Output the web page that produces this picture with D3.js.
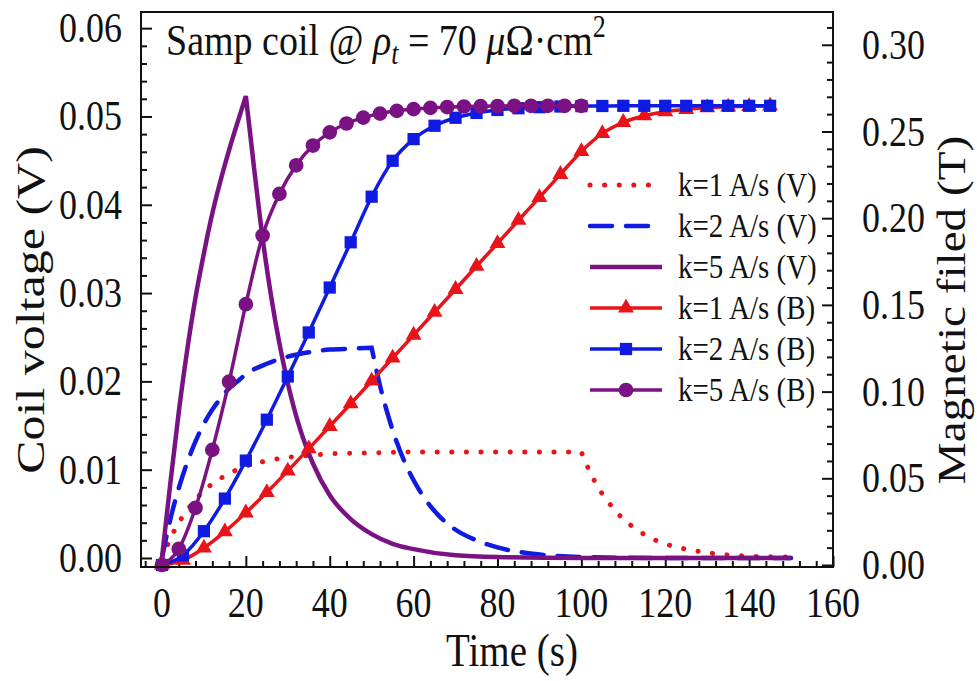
<!DOCTYPE html>
<html>
<head>
<meta charset="utf-8">
<script src="https://cdn.jsdelivr.net/npm/d3@7"></script>
<style>
  body { margin: 0; background: #fff; }
  text { font-family: "Liberation Serif", "Times New Roman", serif; fill: #111; }
</style>
</head>
<body>
<div id="chart"></div>
<script>
// coil voltage curves (left axis, V)
const tV1 = [0, 2, 4, 6, 8, 10, 12, 15, 20, 25, 30, 35, 40, 50, 60, 70, 80, 90, 100, 102, 104, 106, 108, 110, 113, 116, 120, 125, 130, 140, 150];
const v1  = [0, 0.0022, 0.0040, 0.0054, 0.0066, 0.0076, 0.0084, 0.0093, 0.0104, 0.0110, 0.0114, 0.0116, 0.0118, 0.0119, 0.0120, 0.0120, 0.0120, 0.0120, 0.0120, 0.0098, 0.0080, 0.0066, 0.0054, 0.0044, 0.0033, 0.0024, 0.0016, 0.0010, 0.0006, 0.0002, 0.0001];
const tV2 = [0, 2, 4, 6, 8, 10, 12, 14, 16, 18, 20, 25, 30, 35, 40, 45, 50, 52, 54, 56, 58, 60, 63, 66, 70, 75, 80, 90, 100, 120, 150];
const v2  = [0, 0.0044, 0.0079, 0.0108, 0.0132, 0.0152, 0.0168, 0.0181, 0.0192, 0.0200, 0.0208, 0.0220, 0.0228, 0.0233, 0.0236, 0.0237, 0.0238, 0.0195, 0.0160, 0.0131, 0.0107, 0.0088, 0.0065, 0.0048, 0.0032, 0.0020, 0.0012, 0.0004, 0.0001, 0, 0];
const tV5 = [0, 2, 4, 6, 8, 10, 12, 14, 16, 18, 20, 22, 24, 26, 28, 30, 33, 36, 40, 45, 50, 55, 60, 70, 80, 100, 150];
const v5  = [0, 0.0085, 0.0165, 0.0235, 0.0295, 0.0345, 0.0390, 0.0428, 0.0462, 0.0493, 0.0523, 0.0440, 0.0362, 0.0297, 0.0243, 0.0198, 0.0145, 0.0107, 0.0071, 0.0044, 0.0027, 0.0016, 0.0010, 0.0003, 0.0001, 0, 0];

// magnetic field curves (right axis, T)
const tB1 = [0, 5, 10, 15, 20, 25, 30, 35, 40, 45, 50, 55, 60, 65, 70, 75, 80, 85, 90, 95, 100, 105, 110, 115, 120, 125, 130, 135, 140, 145];
const b1  = [0, 0.0028, 0.0098, 0.0192, 0.0301, 0.0419, 0.0543, 0.0671, 0.0800, 0.0930, 0.1062, 0.1194, 0.1326, 0.1458, 0.1590, 0.1723, 0.1855, 0.1988, 0.2120, 0.2253, 0.2385, 0.2489, 0.2553, 0.2591, 0.2614, 0.2628, 0.2637, 0.2642, 0.2645, 0.2647];
const tB2 = [0, 5, 10, 15, 20, 25, 30, 35, 40, 45, 50, 55, 60, 65, 70, 75, 80, 85, 90, 95, 100, 105, 110, 115, 120, 125, 130, 135, 140, 145];
const b2  = [0, 0.0056, 0.0195, 0.0383, 0.0602, 0.0838, 0.1087, 0.1341, 0.1600, 0.1861, 0.2124, 0.2331, 0.2456, 0.2533, 0.2579, 0.2607, 0.2624, 0.2634, 0.2640, 0.2644, 0.2646, 0.2647, 0.2648, 0.2648, 0.2648, 0.2648, 0.2648, 0.2648, 0.2648, 0.2648];
const tB5 = [0, 4, 8, 12, 16, 20, 24, 28, 32, 36, 40, 44, 48, 52, 56, 60, 64, 68, 72, 76, 80, 84, 88, 92, 96, 100];
const b5  = [0, 0.0093, 0.0330, 0.0664, 0.1057, 0.1504, 0.1900, 0.2140, 0.2305, 0.2419, 0.2495, 0.2546, 0.2580, 0.2603, 0.2619, 0.2629, 0.2636, 0.2641, 0.2644, 0.2646, 0.2647, 0.2648, 0.2648, 0.2648, 0.2648, 0.2648];

const legendNames = ["k=1 A/s (V)", "k=2 A/s (V)", "k=5 A/s (V)", "k=1 A/s (B)", "k=2 A/s (B)", "k=5 A/s (B)"];

const xTicks = [0, 20, 40, 60, 80, 100, 120, 140, 160];
const yVTicks = [0, 0.01, 0.02, 0.03, 0.04, 0.05, 0.06];
const yBTicks = [0, 0.05, 0.10, 0.15, 0.20, 0.25, 0.30];

const RED = "#e8141a", BLUE = "#0f1be0", PURPLE = "#7b1283";
const SY = 1.18; // the figure is a bit taller than wide

const render = () => {
    const width = 980, height = 681;
    const box = {l: 141, r: 833, t: 12, b: 567};

    const svg = d3.select("#chart").append("svg")
        .attr("width", width)
        .attr("height", height);

    const x = d3.scaleLinear().domain([-5, 160]).range([box.l, box.r]);
    const yV = d3.scaleLinear().domain([-0.00102, 0.06183]).range([box.b, box.t]);
    const yB = d3.scaleLinear().domain([-0.00115, 0.3189]).range([box.b, box.t]);

    // ticks (inward), minor + major
    const xMinor = d3.range(-4, 161, 4).filter(v => v % 20 !== 0);
    const vMinor = d3.range(1, 31).map(i => i * 0.002).filter((v, i) => (i + 1) % 5 !== 0);
    const bMinor = d3.range(1, 32).map(i => i * 0.01).filter((v, i) => (i + 1) % 5 !== 0);

    const axes = svg.append("g");
    const addAxis = (axis, tr) => {
        const a = axes.append("g").attr("transform", tr).call(axis);
        a.select(".domain").remove();
        a.selectAll("line").attr("stroke", "#111").attr("stroke-width", 2);
        a.selectAll("text").remove();
    };
    addAxis(d3.axisBottom(x).tickValues(xMinor).tickSize(-6), `translate(0,${box.b})`);
    addAxis(d3.axisBottom(x).tickValues(xTicks).tickSize(-11), `translate(0,${box.b})`);
    addAxis(d3.axisLeft(yV).tickValues(vMinor).tickSize(-6), `translate(${box.l},0)`);
    addAxis(d3.axisLeft(yV).tickValues(yVTicks).tickSize(-11), `translate(${box.l},0)`);
    addAxis(d3.axisRight(yB).tickValues(bMinor).tickSize(-6), `translate(${box.r},0)`);
    addAxis(d3.axisRight(yB).tickValues(yBTicks).tickSize(-11), `translate(${box.r},0)`);

    // tick labels
    svg.append("g").selectAll("text").data(xTicks).join("text")
        .attr("transform", d => `translate(${x(d)},603) scale(1,${SY})`)
        .attr("text-anchor", "middle").attr("dominant-baseline", "central")
        .style("font-size", "36px").text(d => d);
    svg.append("g").selectAll("text").data(yVTicks).join("text")
        .attr("transform", d => `translate(122,${yV(d)}) scale(1,${SY})`)
        .attr("text-anchor", "end").attr("dominant-baseline", "central")
        .style("font-size", "36px").text(d => d.toFixed(2));
    svg.append("g").selectAll("text").data(yBTicks).join("text")
        .attr("transform", d => `translate(862,${yB(d)}) scale(1,${SY})`)
        .attr("text-anchor", "start").attr("dominant-baseline", "central")
        .style("font-size", "36px").text(d => d.toFixed(2));

    // axis titles
    svg.append("text").attr("transform", `translate(512,666) scale(1,${SY})`)
        .attr("text-anchor", "middle").style("font-size", "39px").text("Time (s)");
    svg.append("text").attr("transform", `translate(44,310) rotate(-90) scale(1.25,1)`)
        .attr("text-anchor", "middle").style("font-size", "40px").text("Coil voltage (V)");
    svg.append("text").attr("transform", `translate(965,310) rotate(-90) scale(1.18,1)`)
        .attr("text-anchor", "middle").style("font-size", "40px").text("Magnetic filed (T)");

    // sharp knee: monotone on each side of the ramp end
    const kneeLine = (ts, vs, y) => {
        const pts = ts.map((t, i) => [x(t), y(vs[i])]);
        const mx = d3.max(vs);
        const k = vs.lastIndexOf(mx);
        const ln = d3.line().curve(d3.curveMonotoneX);
        return ln(pts.slice(0, k + 1)) + ln(pts.slice(k)).replace(/^M/, "L");
    };

    const plot = svg.append("g");
    plot.append("path").attr("d", kneeLine(tV1, v1, yV))
        .attr("fill", "none").attr("stroke", RED).attr("stroke-width", 5)
        .attr("stroke-linecap", "round").attr("stroke-dasharray", "0.1 14.5");
    plot.append("path").attr("d", kneeLine(tV2, v2, yV))
        .attr("fill", "none").attr("stroke", BLUE).attr("stroke-width", 4.5)
        .attr("stroke-linecap", "round").attr("stroke-dasharray", "22 14");
    plot.append("path").attr("d", kneeLine(tV5, v5, yV))
        .attr("fill", "none").attr("stroke", PURPLE).attr("stroke-width", 4.5);

    const bLine = d3.line().curve(d3.curveMonotoneX);
    const bSeries = [
        {t: tB1, v: b1, color: RED, sym: d3.symbolTriangle, size: 110},
        {t: tB2, v: b2, color: BLUE, sym: d3.symbolSquare, size: 150},
        {t: tB5, v: b5, color: PURPLE, sym: d3.symbolCircle, size: 170}
    ];
    bSeries.forEach(s => {
        const pts = s.t.map((t, i) => [x(t), yB(s.v[i])]);
        plot.append("path").attr("d", bLine(pts))
            .attr("fill", "none").attr("stroke", s.color).attr("stroke-width", 3.5);
        plot.append("g").selectAll("path").data(pts).join("path")
            .attr("transform", d => `translate(${d[0]},${d[1]})`)
            .attr("d", d3.symbol(s.sym, s.size)())
            .attr("fill", s.color);
    });

    // legend
    const lg = svg.append("g");
    const rowY = i => 185 + i * 41;
    const styles = [
        {c: RED, w: 5, dash: "0.1 14.5", cap: "round"},
        {c: BLUE, w: 4.5, dash: "22 14", cap: "round"},
        {c: PURPLE, w: 4.5},
        {c: RED, w: 3.5, sym: d3.symbolTriangle, size: 110},
        {c: BLUE, w: 3.5, sym: d3.symbolSquare, size: 150},
        {c: PURPLE, w: 3.5, sym: d3.symbolCircle, size: 170}
    ];
    legendNames.forEach((name, i) => {
        const st = styles[i];
        const yy = rowY(i);
        const ln = lg.append("line").attr("x1", 590).attr("x2", 662)
            .attr("y1", yy).attr("y2", yy)
            .attr("stroke", st.c).attr("stroke-width", st.w);
        if (st.dash) ln.attr("stroke-dasharray", st.dash).attr("stroke-linecap", st.cap);
        if (st.sym) lg.append("path").attr("transform", `translate(626,${yy})`)
            .attr("d", d3.symbol(st.sym, st.size)()).attr("fill", st.c);
        lg.append("text").attr("transform", `translate(678,${yy}) scale(1,${SY})`)
            .attr("dominant-baseline", "central")
            .style("font-size", "29px").text(name);
    });

    // annotation
    const title = svg.append("text").attr("transform", `translate(166,55) scale(1,${SY})`)
        .style("font-size", "38px");
    title.append("tspan").text("Samp coil @ ");
    title.append("tspan").style("font-style", "italic").text("ρ");
    title.append("tspan").style("font-style", "italic").style("font-size", "26px").attr("dy", 8).text("t");
    title.append("tspan").attr("dy", -8).text(" = 70 ");
    title.append("tspan").style("font-style", "italic").text("μ");
    title.append("tspan").text("Ω·cm");
    title.append("tspan").style("font-size", "26px").attr("dy", -15).text("2");

    // frame
    svg.append("rect").attr("x", box.l).attr("y", box.t)
        .attr("width", box.r - box.l).attr("height", box.b - box.t)
        .attr("fill", "none").attr("stroke", "#111").attr("stroke-width", 2);
}

render();
</script>
</body>
</html>
